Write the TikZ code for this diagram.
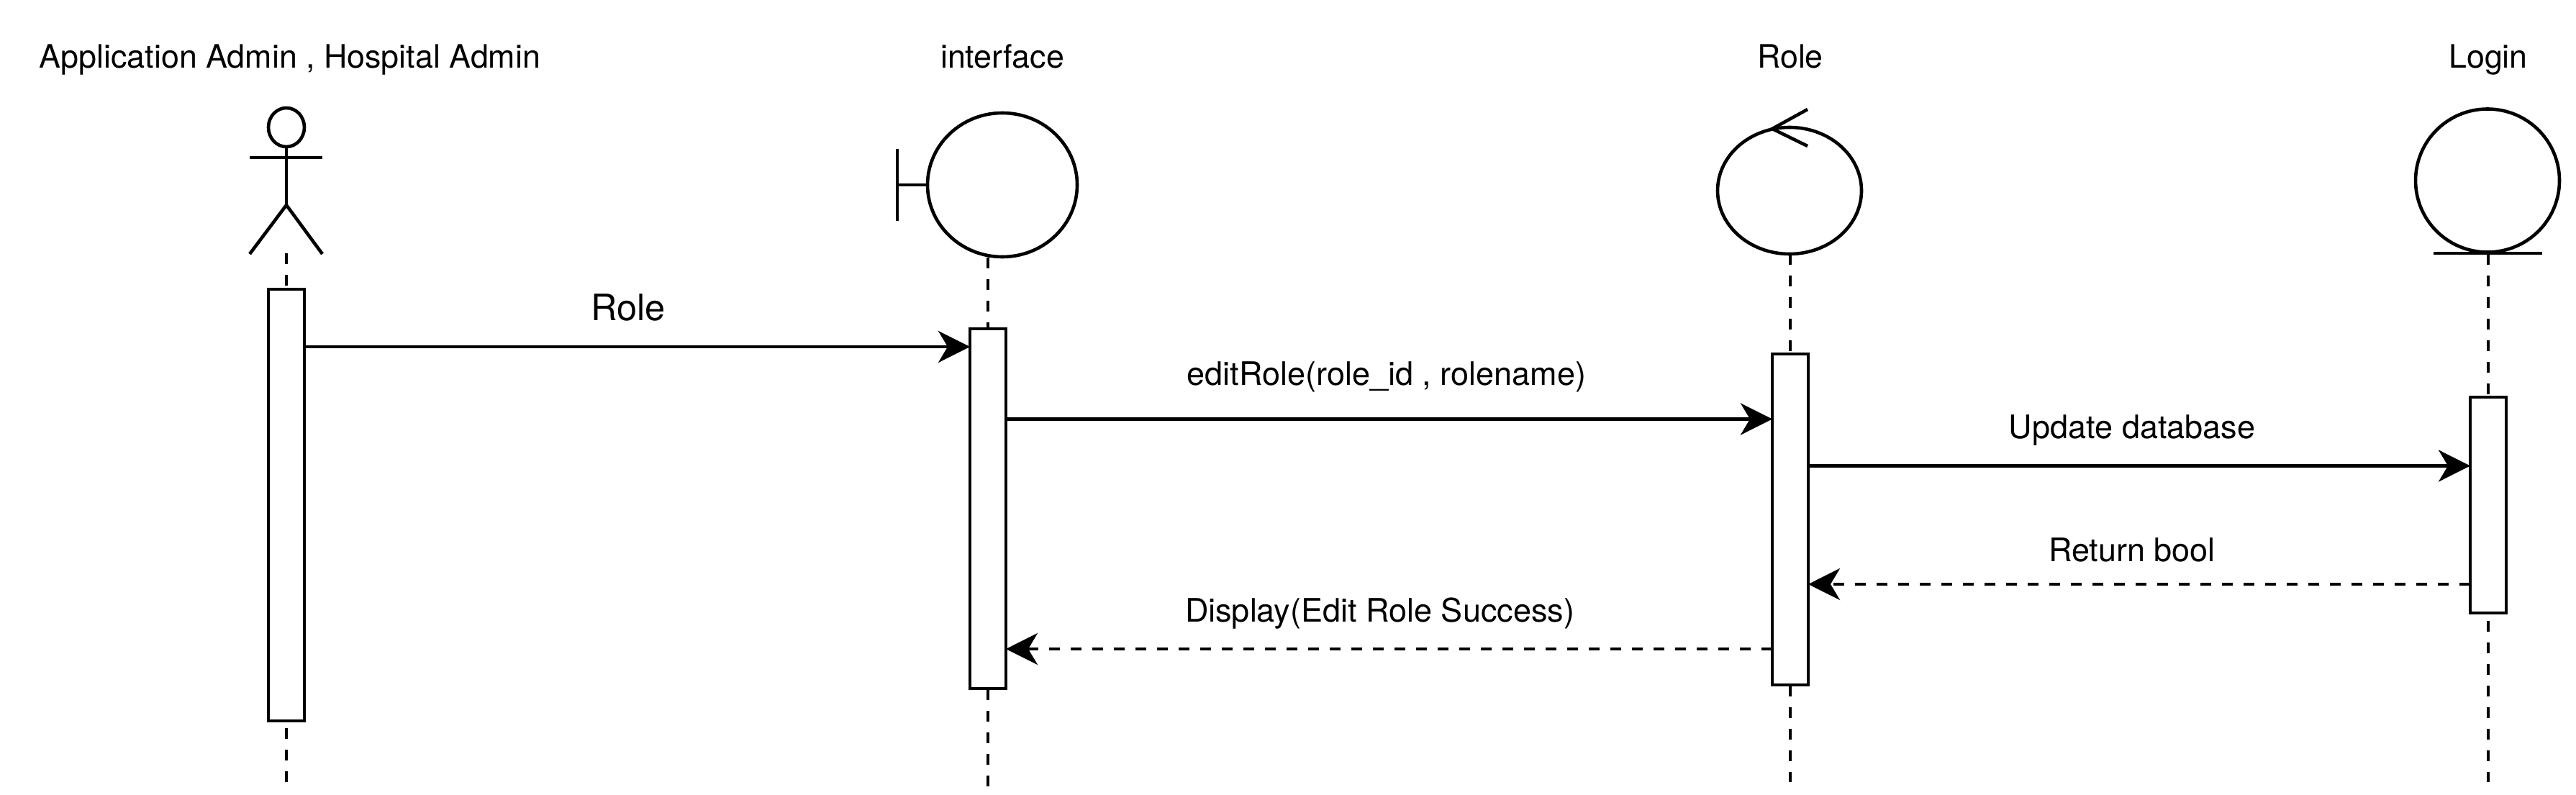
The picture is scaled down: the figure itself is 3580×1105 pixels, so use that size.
\documentclass[tikz,border=0pt]{standalone}
\usepackage{fontspec}
\setmainfont{TeX Gyre Heros}
\usetikzlibrary{arrows.meta,shapes.geometric}
\tikzset{
  x=1pt,y=-1pt,
  shape line/.style={draw=black,line width=4.6pt},
  lifeobj/.style={shape line,ellipse,inner sep=0pt,outer sep=0pt,fill=white},
  activation/.style={shape line,rectangle,fill=white,inner sep=0pt,outer sep=0pt,minimum width=50pt},
  lifeline/.style={draw=black,line width=4pt,dash pattern=on 15pt off 15pt},
  call/.style={draw=black,line width=4.6pt,-{Stealth[length=44pt,width=44pt,inset=13pt]}},
  reply/.style={call,dash pattern=on 15pt off 15pt},
  title/.style={anchor=base,inner sep=0pt,font=\fontsize{44.8}{50}\selectfont},
  msg/.style={anchor=base,inner sep=0pt,font=\fontsize{45}{50}\selectfont},
  bigmsg/.style={anchor=base,inner sep=0pt,font=\fontsize{50.5}{56}\selectfont},
}
\begin{document}
\begin{tikzpicture}
\useasboundingbox (0,0) rectangle (3580,1105);
\fill[white] (0,0) rectangle (3580,1105);

% titles
\node[title] (t1) at (403,95) {Application Admin , Hospital Admin};
\node[title] (t2) at (1393,95) {interface};
\node[title] (t3) at (2488,95) {Role};
\node[title] (t4) at (3458,95) {Login};

% lifeline anchors
\coordinate (l1a) at (398,352);  \coordinate (l1b) at (398,1087);
\coordinate (l2a) at (1373,358); \coordinate (l2b) at (1373,1093);
\coordinate (l3a) at (2488,353); \coordinate (l3b) at (2488,1087);
\coordinate (l4a) at (3458,353); \coordinate (l4b) at (3458,1087);
\draw[lifeline] (l1a) -- (l1b);
\draw[lifeline] (l2a) -- (l2b);
\draw[lifeline] (l3a) -- (l3b);
\draw[lifeline] (l4a) -- (l4b);

% actor
\node[lifeobj,minimum width=50pt,minimum height=54pt] (head) at (398,177) {};
\coordinate (armL) at (347,219); \coordinate (armR) at (448,219);
\coordinate (hip) at (398,285);
\coordinate (legL) at (347,353); \coordinate (legR) at (448,353);
\draw[shape line] (head.south) -- (hip);
\draw[shape line] (armL) -- (armR);
\draw[shape line] (legL) -- (hip) -- (legR);

% boundary
\node[lifeobj,minimum width=208pt,minimum height=200pt] (bnd) at (1393,257) {};
\coordinate (bndT) at (1247,207); \coordinate (bndB) at (1247,307);
\draw[shape line] (bndT) -- (bndB);
\draw[shape line] (bndT |- bnd.west) -- (bnd.west);

% control
\node[lifeobj,minimum width=200pt,minimum height=176pt] (ctl) at (2487,265) {};
\coordinate (ctlTip) at (2463,179); \coordinate (ctlU) at (2512,152); \coordinate (ctlD) at (2512,203);
\draw[shape line] (ctlU) -- (ctlTip) -- (ctlD);

% entity
\node[lifeobj,minimum width=200pt,minimum height=199pt] (ent) at (3457,251) {};
\coordinate (entL) at (3382,352); \coordinate (entR) at (3533,352);
\draw[shape line] (entL) -- (entR);

% activations
\node[activation,minimum height=600pt] (a1) at (398,702) {};
\node[activation,minimum height=500pt] (a2) at (1373,707) {};
\node[activation,minimum height=460pt] (a3) at (2488,722) {};
\node[activation,minimum height=300pt] (a4) at (3458,702) {};

% messages
\coordinate (m1s) at (a1.east |- 0,482);   \coordinate (m1e) at (a2.west |- 0,482);
\coordinate (m2s) at (a2.east |- 0,582.5); \coordinate (m2e) at (a3.west |- 0,582.5);
\coordinate (m3s) at (a3.east |- 0,647.5); \coordinate (m3e) at (a4.west |- 0,647.5);
\coordinate (m4s) at (a4.west |- 0,812);   \coordinate (m4e) at (a3.east |- 0,812);
\coordinate (m5s) at (a3.west |- 0,902);   \coordinate (m5e) at (a2.east |- 0,902);
\draw[call] (m1s) -- (m1e);
\draw[call] (m2s) -- (m2e);
\draw[call] (m3s) -- (m3e);
\draw[reply] (m4s) -- (m4e);
\draw[reply] (m5s) -- (m5e);

% labels
\node[bigmsg] (lb1) at (873,445) {Role};
\node[msg] (lb2) at (1927,535) {editRole(role\_id , rolename)};
\node[msg] (lb3) at (2963,609) {Update database};
\node[msg] (lb4) at (2963,780) {Return bool};
\node[msg] (lb5) at (1917.5,864) {Display(Edit Role Success)};
\end{tikzpicture}
\end{document}
